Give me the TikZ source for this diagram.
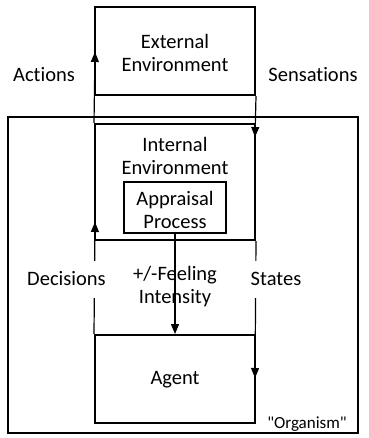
\documentclass[tikz,border=0pt]{standalone}
\usepackage{fontspec}
\setmainfont{Carlito}[Ligatures={NoCommon,TeXOff}]
\usetikzlibrary{arrows.meta}
\tikzset{
	box/.style={draw, line width=2pt, minimum width=160pt, inner sep=0pt},
	conn/.style={line width=1.2pt, -{Triangle[length=10pt,width=8pt]}},
	lbl/.style={font=\fontsize{20.5}{23}\selectfont, align=center, inner sep=0pt},
	cover/.style={lbl, fill=white, minimum height=37pt}
}
\begin{document}
\begin{tikzpicture}[x=1pt, y=-1pt]
			%%%%% START %%%%%
			\useasboundingbox (0, 0) rectangle (368, 438);
			
			\draw[line width=2pt] (8, 117) rectangle (358, 433);
			
			\node[box, minimum height=88pt] (ext) at (175, 51) {};
			\node[lbl] (extlbl) at (175, 53) {External\\Environment};
			
			\node[box, minimum height=116pt] (int) at (175, 182) {};
			\node[lbl] (intlbl) at (175, 156) {Internal\\Environment};
			
			\node[box, minimum width=102pt, minimum height=51pt] (appr) at (175, 207.5) {};
			\node[lbl] (apprlbl) at (175, 209.5) {Appraisal\\Process};
			
			\node[box, minimum height=88pt] (agent) at (175, 379) {};
			\node[lbl] (agentlbl) at (175, 380) {Agent};
			
			\coordinate (acttip) at (95, 52);
			\coordinate (sentip) at (255, 137);
			\coordinate (dectip) at (95, 222);
			\coordinate (statip) at (255, 378);
			
			\draw[conn] (int.north west) -- (acttip);
			\draw[conn] (ext.south east) -- (sentip);
			\draw[conn] (agent.north west) -- (dectip);
			\draw[conn] (int.south east) -- (statip);
			
			\node[lbl] (act) at (44, 75) {Actions};
			\node[lbl] (sen) at (313, 75) {Sensations};
			
			\node[cover, minimum width=103pt] (dec) at (66.5, 279) {Decisions};
			\node[cover, minimum width=88pt] (sta) at (276, 279) {States};
			\node[lbl] (feel) at (175, 287) {+/-Feeling\\Intensity};
			
			\draw[conn] (appr.south) -- (agent.north);
			
			\node[lbl, font=\fontsize{17}{20}\selectfont] (org) at (307, 424) {"Organism"};
			%%%%% END %%%%%
\end{tikzpicture}
\end{document}
